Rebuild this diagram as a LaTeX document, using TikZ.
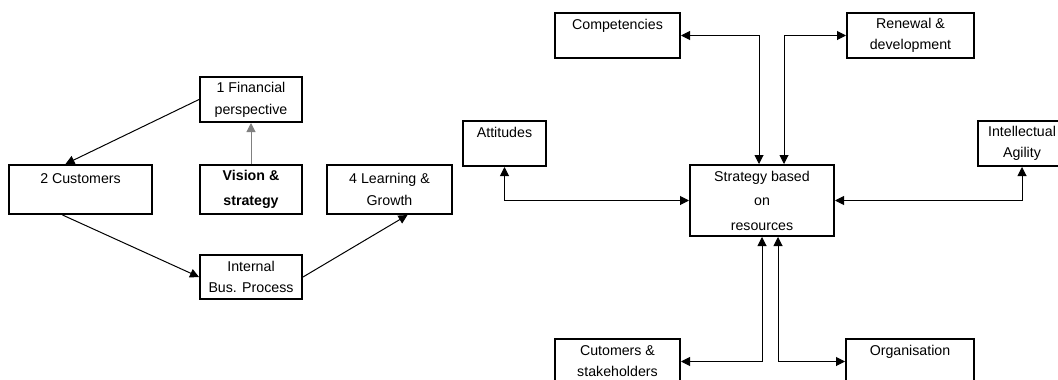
\documentclass[tikz,border=0pt]{standalone}
\usepackage{fontspec}
\setmainfont{Liberation Sans}
\usepackage{tikz}
\usetikzlibrary{arrows.meta}

\begin{document}
\begin{tikzpicture}[x=1pt, y=-1pt,
		every node/.style={font=\fontsize{14.2}{22}\selectfont},
		box/.style={draw, line width=2pt, rectangle, inner sep=0pt, align=center},
		link/.style={line width=1pt, {Triangle[length=9pt,width=9pt]}-{Triangle[length=9pt,width=9pt]}},
		onelink/.style={line width=1pt, -{Triangle[length=9pt,width=9pt]}}]
					\clip (0,0) rectangle (1058,380);
					
					% balanced scorecard
					\node[box, minimum width=102pt, minimum height=45pt] (fin) at (251,99.5) {1 Financial\\perspective};
					\node[box, minimum width=143pt, minimum height=49pt] (cust) at (80.5,189.5) {2 Customers\\ {}};
					\node[box, minimum width=102pt, minimum height=49pt, font=\fontsize{14.2}{25}\selectfont\bfseries] (vis) at (251,189.5) {Vision \&\\strategy};
					\node[box, minimum width=125pt, minimum height=49pt] (learn) at (389.5,189.5) {4 Learning \&\\Growth};
					\node[box, minimum width=102pt, minimum height=44pt, font=\fontsize{14.2}{21}\selectfont] (intl) at (251,277) {Internal\\Bus. Process};
					
					\draw[onelink] (fin.west) -- ([xshift=-15pt]cust.north);
					\draw[onelink, gray] (vis.north) -- (fin.south);
					\draw[onelink] ([xshift=-18pt]cust.south) -- (intl.west);
					\draw[onelink] (intl.east) -- ([xshift=18pt]learn.south);
					
					% resources
					\node[box, minimum width=144pt, minimum height=71pt, font=\fontsize{14.2}{24.5}\selectfont] (strat) at (762,200.5) {Strategy based\\on\\resources};
					\node[box, minimum width=125pt, minimum height=45pt] (comp) at (617.5,35.5) {Competencies\\ {}};
					\node[box, minimum width=127pt, minimum height=45pt, font=\fontsize{14.2}{21}\selectfont] (renew) at (910.5,35.5) {Renewal \&\\development};
					\node[box, minimum width=83pt, minimum height=45pt] (att) at (504.5,143.5) {Attitudes\\ {}};
					\node[box, minimum width=88pt, minimum height=45pt, font=\fontsize{14.2}{21}\selectfont] (intel) at (1022,143.5) {Intellectual\\Agility};
					\node[box, minimum width=125pt, minimum height=45pt, font=\fontsize{14.2}{21}\selectfont] (cutst) at (617.5,361.5) {Cutomers \&\\stakeholders};
					\node[box, minimum width=128pt, minimum height=45pt] (org) at (910,361.5) {Organisation\\ {}};
					
					\draw[link] ([xshift=-3pt]strat.north) |- (comp.east);
					\draw[link] ([xshift=22pt]strat.north) |- (renew.west);
					\draw[link] (att.south) |- (strat.west);
					\draw[link] (intel.south) |- (strat.east);
					\draw[link] (strat.south) |- (cutst.east);
					\draw[link] ([xshift=16pt]strat.south) |- (org.west);
				\end{tikzpicture}
\end{document}
